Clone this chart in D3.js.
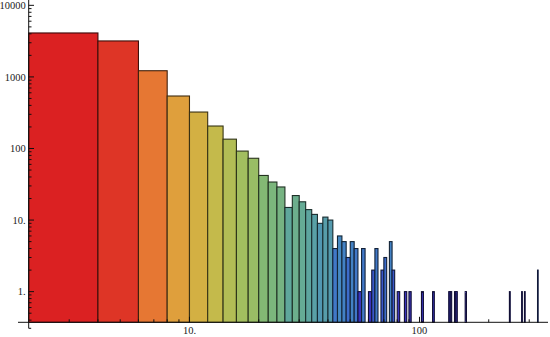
<!DOCTYPE html>
<html>
<head>
<meta charset="utf-8">
<script src="https://cdn.jsdelivr.net/npm/d3@7"></script>
<style>
  html, body { margin: 0; padding: 0; background: #fff; }
  svg { display: block; }
  .lbl { font-family: "Liberation Serif", "DejaVu Serif", serif; font-size: 10.5px; fill: #1a1a1a; }
</style>
</head>
<body>
<svg id="chart" width="550" height="337"></svg>
<script>
// Histogram counts, bins of width 2 (left edge of each non-empty bin)
const binWidth = 2;
const binStart = [2,4,6,8,10,12,14,16,18,20,22,24,26,28,30,32,34,36,38,40,
                  42,44,46,48,50,52,54,56,60,62,64,68,70,74,76,80,86,90,
                  102,114,134,136,142,144,158,246,278,286,326];
const counts   = [4110,3180,1220,541,323,206,135,92,73,42,34,29,15,22,18,14,12,9,11,10,
                  4,6,5,3,5,4,1,4,1,2,4,2,3,5,2,1,1,1,
                  1,1,1,1,1,1,1,1,1,1,2];

// Axis ticks
const xMajorTicks = [10, 100];
const xMajorLabels = ["10.", "100"];
const xMinorTicks = [3,4,5,6,7,8,9,20,30,40,50,60,70,80,90,200,300];
const yMajorTicks = [1, 10, 100, 1000, 10000];
const yMajorLabels = ["1.", "10.", "100", "1000", "10000"];
const yMinorTicks = [0.4,0.5,0.6,0.7,0.8,0.9];
[1, 10, 100, 1000].forEach(d => { for (let k = 2; k <= 9; k++) yMinorTicks.push(d * k); });

const svg = d3.select("#chart");

const x = d3.scaleLog().domain([2, 362]).range([28.7, 548]);
const y = d3.scaleLog().domain([0.373, 11870]).range([322.3, 0]);
const yBase = y.domain()[0];

// Bar colour follows the bar height on the log axis (rainbow gradient)
const lo = Math.log10(yBase), hi = Math.log10(d3.max(counts));
const rainbow = d3.scaleLinear()
  .domain([0, 0.106, 0.2, 0.3, 0.4, 0.5, 0.6, 0.7, 0.8, 0.9, 1.0])
  .range(["#6e1e8c", "#3a34bc", "#3a62cd", "#468ac3", "#60a89b", "#80b876",
          "#a5bf5d", "#cdb846", "#e3993a", "#e76830", "#db2122"])
  .interpolate(d3.interpolateRgb);
const fillOf = h => rainbow((Math.log10(h) - lo) / (hi - lo));

const bins = binStart.map((s, i) => ({ x0: s, x1: s + binWidth, n: counts[i] }));

svg.append("g").selectAll("rect")
  .data(bins)
  .join("rect")
  .attr("x", d => x(d.x0))
  .attr("width", d => Math.max(0, x(d.x1) - x(d.x0)))
  .attr("y", d => y(d.n))
  .attr("height", d => y(yBase) - y(d.n))
  .attr("fill", d => fillOf(d.n))
  .attr("stroke", d => d3.color(fillOf(d.n)).darker(3.6))
  .attr("stroke-width", 1.1);

const axisColor = "#111";
const x0 = x(2), yAxisY = y(yBase);
const ax = svg.append("g").attr("stroke", axisColor).attr("stroke-width", 1).attr("fill", "none");

// axis lines
ax.append("line").attr("x1", 18).attr("x2", 548).attr("y1", yAxisY).attr("y2", yAxisY);
ax.append("line").attr("x1", x0).attr("x2", x0).attr("y1", 0).attr("y2", yAxisY + 6);
ax.append("line").attr("x1", x0).attr("x2", x0 + 2.5).attr("y1", yAxisY + 6).attr("y2", yAxisY + 6);

// x ticks (pointing up into the plot)
ax.selectAll(".xM").data(xMajorTicks).join("line")
  .attr("x1", d => x(d)).attr("x2", d => x(d))
  .attr("y1", yAxisY).attr("y2", yAxisY - 5.5);
ax.selectAll(".xm").data(xMinorTicks).join("line")
  .attr("class", "xm")
  .attr("x1", d => x(d)).attr("x2", d => x(d))
  .attr("y1", yAxisY).attr("y2", yAxisY - 3);

// y ticks (pointing right into the plot)
ax.selectAll(".yM").data(yMajorTicks).join("line")
  .attr("class", "yM")
  .attr("x1", x0).attr("x2", x0 + 5.3)
  .attr("y1", d => y(d)).attr("y2", d => y(d));
ax.selectAll(".ym").data(yMinorTicks).join("line")
  .attr("class", "ym")
  .attr("x1", x0).attr("x2", x0 + 2.8)
  .attr("y1", d => y(d)).attr("y2", d => y(d));

// tick labels
svg.append("g").selectAll("text").data(xMajorTicks).join("text")
  .attr("class", "lbl")
  .attr("x", d => x(d)).attr("y", yAxisY + 12)
  .attr("text-anchor", "middle")
  .text((d, i) => xMajorLabels[i]);

svg.append("g").selectAll("text").data(yMajorTicks).join("text")
  .attr("class", "lbl")
  .attr("x", x0 - 3).attr("y", d => y(d) + 3.6)
  .attr("text-anchor", "end")
  .text((d, i) => yMajorLabels[i]);
</script>
</body>
</html>
